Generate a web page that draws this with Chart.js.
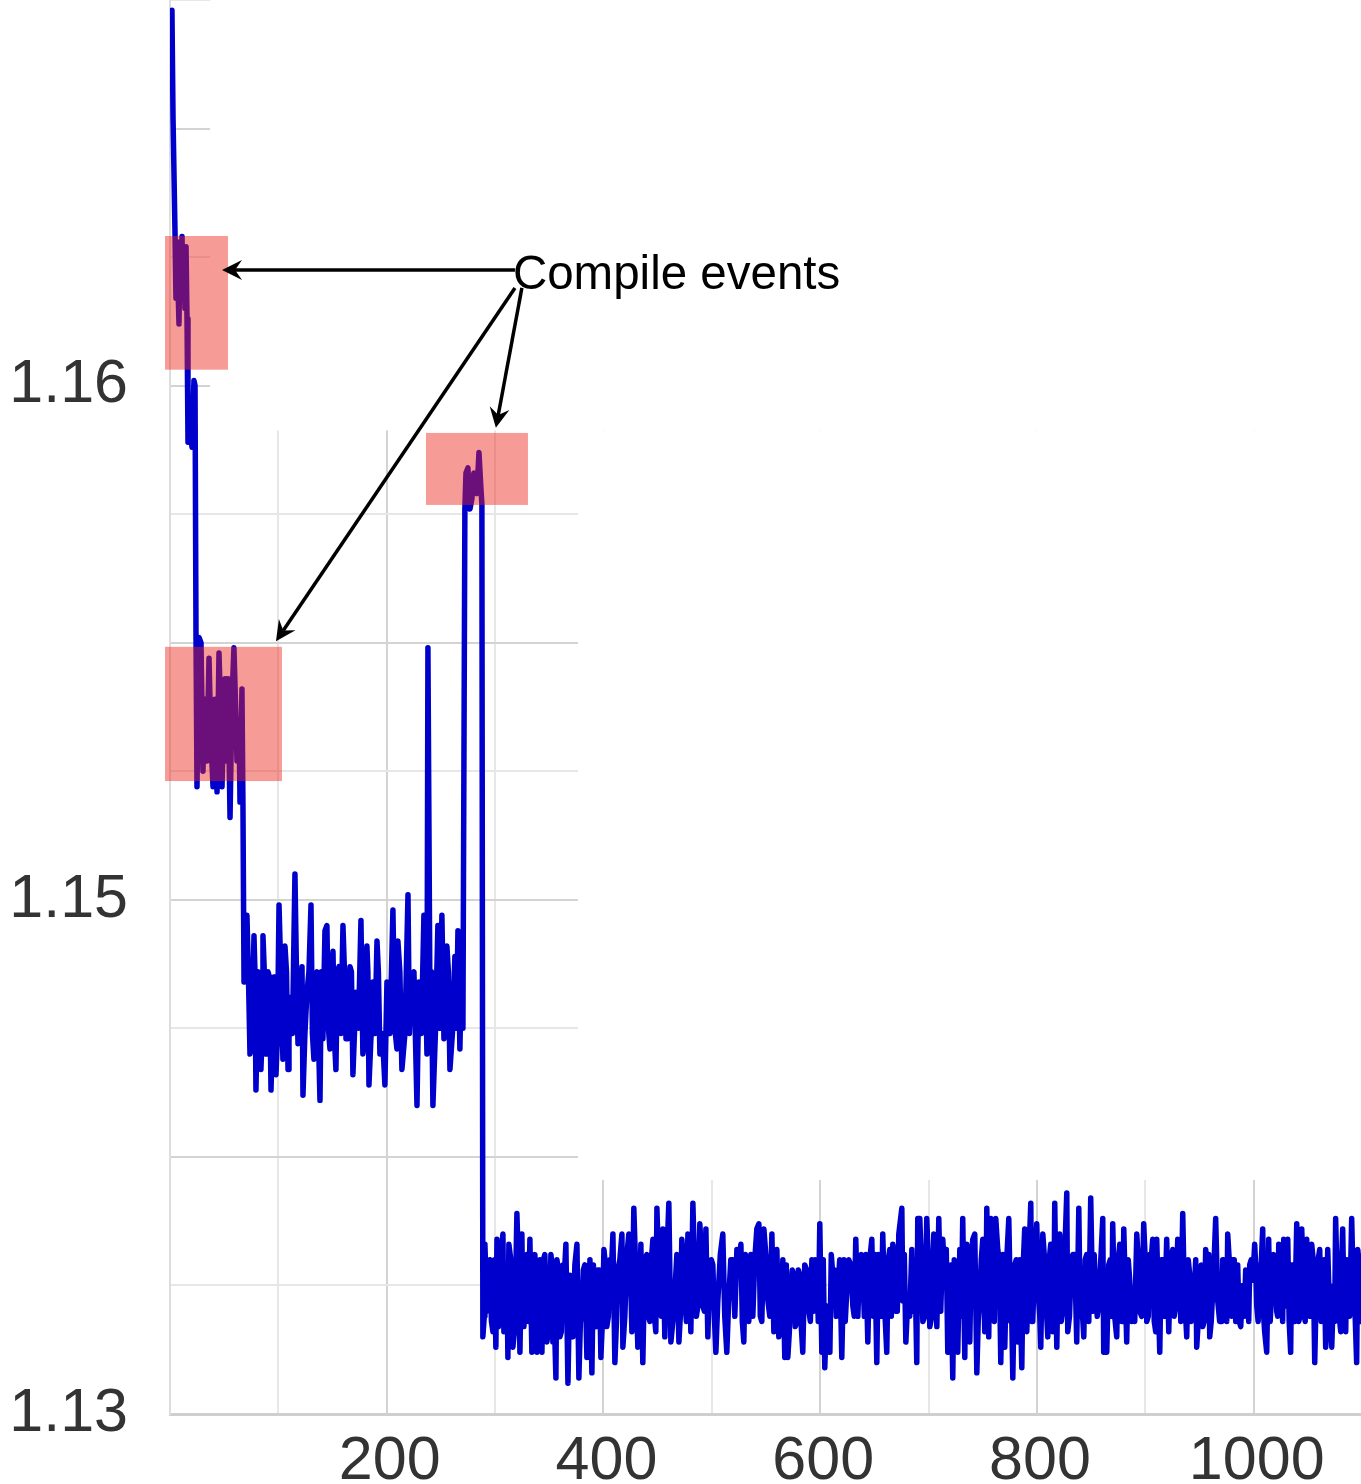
<!DOCTYPE html>
<html>
<head>
<meta charset="utf-8">
<script src="https://cdn.jsdelivr.net/npm/chart.js@4.4.1/dist/chart.umd.min.js"></script>
<style>
  html, body { margin: 0; padding: 0; background: #ffffff; }
  #wrap { width: 1361px; height: 1484px; position: relative; }
</style>
</head>
<body>
<div id="wrap"><canvas id="c"></canvas></div>
<script>
// ---------------- data (iteration, value) ----------------
const startPts = [
  [1.8,1.1673],[2.8,1.1652],[4.6,1.1630],[5.5,1.1617],[6.5,1.1628],[7.4,1.1619],[8.3,1.1612],
  [9.2,1.1627],[10.1,1.1618],[11.1,1.1629],[12.0,1.1617],[12.9,1.1626],[13.8,1.1615],[14.8,1.1627],
  [15.7,1.1613],[16.6,1.1589],[18.5,1.1592],[20.3,1.1588],[22.1,1.1601],[23.1,1.1600]
];
const secondPhasePts = [
  [24.0,1.1551],[24.9,1.1522],[26.8,1.1551],[28.6,1.1550],[30.4,1.1525],[32.3,1.1539],[34.1,1.1527],
  [36.0,1.1547],[37.8,1.1531],[39.7,1.1522],[41.5,1.1539],[43.4,1.1521],[45.2,1.1548],[47.0,1.1535],
  [48.0,1.1522],[49.8,1.1539],[50.7,1.1543],[51.7,1.1527],[53.5,1.1543],[55.4,1.1516],[57.2,1.1539],
  [59.0,1.1549],[60.9,1.1535],[61.8,1.1527],[63.7,1.1535],[64.6,1.1519],[66.4,1.1541],[67.3,1.1519],
  [68.3,1.1484]
];
const plateauPts = [
  [71.0,1.1497],[73.8,1.1470],[77.5,1.1493],[79.3,1.1463],[81.2,1.1486],[83.9,1.1467],[85.8,1.1493],
  [88.6,1.1470],[90.4,1.1486],[93.2,1.1463],[95.9,1.1485],[97.8,1.1466],[100.6,1.1499],[104.2,1.1469],
  [106.1,1.1491],[108.9,1.1467],[110.7,1.1481],[115.3,1.1505],[118.1,1.1472],[121.8,1.1487],[122.7,1.1462],
  [126.4,1.1482],[130.1,1.1499],[132.8,1.1469],[135.6,1.1486],[138.4,1.1461],[141.1,1.1473],[143.0,1.1494],
  [144.8,1.1495],[147.6,1.1471],[150.4,1.1490],[153.1,1.1467],[155.9,1.1487],[159.6,1.1495],[162.4,1.1473],
  [166.1,1.1487],[168.8,1.1466],[171.6,1.1482],[176.2,1.1496],[178.0,1.1470],[181.7,1.1491],[183.6,1.1464],
  [187.3,1.1484],[191.0,1.1492],[193.7,1.1470],[198.3,1.1464],[200.2,1.1484],[205.7,1.1498],[209.4,1.1471],
  [210.3,1.1492],[214.0,1.1467],[219.6,1.1501],[222.3,1.1484],[227.9,1.1460],[229.7,1.1484],[234.3,1.1497],
  [237.1,1.1470],[238.0,1.1549],[239.9,1.1479],[242.6,1.1460],[247.2,1.1495],[250.9,1.1497],[252.8,1.1473],
  [255.5,1.1491],[258.3,1.1467],[262.9,1.1489],[265.7,1.1494],[267.5,1.1471],[270.3,1.1475]
];
const plateauCorePts = [
  [72.4,1.1485],[75.6,1.1474],[78.4,1.1486],[80.2,1.1472],[82.5,1.1485],[84.9,1.1473],[87.2,1.1485],
  [89.5,1.1474],[91.8,1.1485],[94.5,1.1473],[96.8,1.1485],[99.2,1.1474],[102.4,1.1485],[105.1,1.1474],
  [107.5,1.1486],[109.8,1.1473],[113.0,1.1474],[116.7,1.1486],[119.9,1.1473],[124.5,1.1474],[128.2,1.1486],
  [131.4,1.1474],[134.2,1.1485],[137.0,1.1473],[139.7,1.1486],[146.2,1.1475],[149.0,1.1485],[151.7,1.1473],
  [154.5,1.1486],[157.7,1.1474],[161.0,1.1486],[164.2,1.1473],[167.4,1.1486],[170.2,1.1474],[173.9,1.1475],
  [179.8,1.1474],[182.6,1.1486],[185.4,1.1473],[189.1,1.1474],[192.3,1.1486],[196.0,1.1474],[203.0,1.1474],
  [207.5,1.1475],[212.1,1.1486],[216.8,1.1474],[220.9,1.1474],[225.1,1.1486],[232.0,1.1474],[235.7,1.1486],
  [241.2,1.1486],[244.9,1.1474],[249.0,1.1475],[254.1,1.1484],[256.9,1.1486],[260.6,1.1474],[264.3,1.1475],
  [268.9,1.1486]
];
const recompilePts = [
  [272.1,1.1576],[273.1,1.1583],[274.9,1.1584],[276.8,1.1576],[278.6,1.1578],[280.4,1.1583],
  [283.2,1.1579],[285.1,1.1587],[286.9,1.1580],[287.8,1.1577]
];
const steadyPtsA = [
  [288.7,1.1415],[290.6,1.1433],[292.4,1.1420],[295.2,1.1430],[298.0,1.1416],[300.7,1.1413],[301.7,1.1434],
  [304.4,1.1425],[307.2,1.1435],[308.1,1.1416],[310.9,1.1427],[311.8,1.1411],[312.7,1.1433],[316.4,1.1413],
  [320.1,1.1439],[322.9,1.1412],[324.7,1.1435],[326.6,1.1417],[329.3,1.1431],[332.1,1.1434],[333.9,1.1412],
  [336.7,1.1431],[338.6,1.1412],[341.3,1.1430],[343.2,1.1412],[345.9,1.1431],[347.8,1.1414],[351.5,1.1431],
  [353.3,1.1414],[356.1,1.1407],[357.0,1.1430],[359.8,1.1415],[362.5,1.1429],[365.3,1.1433],[367.2,1.1406],
  [369.0,1.1427],[371.8,1.1415],[375.5,1.1433],[377.3,1.1407],[380.1,1.1419],[382.8,1.1429],[384.7,1.1411],
  [387.5,1.1430],[389.3,1.1408],[392.1,1.1418],[394.8,1.1428],[397.6,1.1411],[400.4,1.1432],[403.1,1.1417],
  [405.9,1.1430],[408.7,1.1435],[410.5,1.1410],[413.3,1.1428],[417.0,1.1435],[417.9,1.1413],[421.6,1.1431],
  [423.4,1.1435],[426.2,1.1416],[428.0,1.1440],[429.9,1.1427],[431.7,1.1413],[434.5,1.1433],[436.3,1.1410],
  [440.0,1.1431],[442.8,1.1418],[445.6,1.1434],[448.3,1.1416],[449.3,1.1440],[452.0,1.1423],[454.8,1.1436],
  [456.6,1.1415],[460.3,1.1441],[462.2,1.1414],[465.9,1.1424],[469.6,1.1414],[472.3,1.1434],[475.1,1.1422],
  [477.9,1.1435],[480.6,1.1416],[482.5,1.1441],[484.3,1.1426],[487.1,1.1421],[488.9,1.1437],[491.7,1.1421],
  [494.5,1.1436],[496.3,1.1415],[498.2,1.1429],[500.9,1.1429],[503.7,1.1412],[505.5,1.1422],[510.1,1.1435],
  [513.8,1.1412],[515.7,1.1423],[519.4,1.1430],[523.1,1.1432],[526.8,1.1433],[529.5,1.1414],[532.3,1.1425],
  [536.0,1.1431],[537.8,1.1419],[541.5,1.1436],[543.4,1.1437],[546.1,1.1418],[548.0,1.1436],[551.7,1.1422],
  [555.4,1.1435],[557.2,1.1416],[560.0,1.1432],[561.8,1.1415],[565.5,1.1430],[567.3,1.1411],[570.1,1.1411],
  [572.9,1.1424],[575.6,1.1427],[578.4,1.1418],[581.2,1.1427],[583.9,1.1412],[587.6,1.1428],[589.5,1.1420],
  [592.3,1.1430],[594.1,1.1420],[596.9,1.1427],[599.6,1.1437],[601.5,1.1412],[604.2,1.1409],[606.1,1.1421],
  [608.9,1.1412],[611.6,1.1427],[613.5,1.1428],[616.2,1.1424],[619.9,1.1411],[621.8,1.1430],[624.5,1.1424],
  [628.2,1.1429],[630.1,1.1421],[632.8,1.1434],[634.7,1.1419],[636.5,1.1430],[639.3,1.1428],[642.1,1.1431],
  [643.9,1.1414],[647.6,1.1434],[650.4,1.1431],[652.2,1.1410],[655.0,1.1426],[657.7,1.1435],[659.6,1.1420],
  [661.4,1.1412],[664.2,1.1432],[667.0,1.1433],[669.7,1.1420],[672.5,1.1435],[675.3,1.1440],[676.2,1.1422],
  [679.0,1.1414],[680.8,1.1422],[684.5,1.1432],[685.4,1.1420],[689.1,1.1410],[690.0,1.1438]
];
const steadyCorePtsA = [
  [290.0,1.1419],[293.8,1.1429],[296.6,1.1418],[299.4,1.1430],[303.0,1.1417],[305.8,1.1431],[309.5,1.1418],
  [314.5,1.1430],[318.2,1.1417],[321.5,1.1429],[325.6,1.1419],[328.0,1.1430],[330.7,1.1418],[335.3,1.1429],
  [340.0,1.1416],[344.5,1.1430],[349.6,1.1417],[352.4,1.1429],[354.7,1.1418],[358.4,1.1428],[361.1,1.1416],
  [363.9,1.1427],[370.4,1.1417],[373.6,1.1429],[378.7,1.1418],[381.4,1.1428],[386.1,1.1416],[390.7,1.1429],
  [393.4,1.1417],[396.2,1.1428],[399.0,1.1418],[401.8,1.1429],[404.5,1.1419],[407.3,1.1428],[412.0,1.1418],
  [415.1,1.1430],[419.7,1.1419],[424.8,1.1429],[433.1,1.1418],[438.1,1.1430],[441.4,1.1419],[444.2,1.1430],
  [447.0,1.1419],[450.6,1.1431],[453.4,1.1419],[458.4,1.1430],[464.0,1.1418],[467.7,1.1431],[470.9,1.1419],
  [473.7,1.1430],[476.5,1.1418],[479.2,1.1431],[485.7,1.1419],[490.3,1.1431],[493.1,1.1420],[499.5,1.1430],
  [502.3,1.1419],[507.8,1.1431],[511.9,1.1419],[517.5,1.1430],[521.2,1.1419],[525.0,1.1430],[528.1,1.1418],
  [530.9,1.1431],[534.1,1.1418],[539.6,1.1430],[544.7,1.1419],[549.8,1.1431],[553.5,1.1419],[558.6,1.1430],
  [563.6,1.1418],[568.7,1.1429],[571.5,1.1416],[574.2,1.1428],[577.0,1.1417],[579.8,1.1428],[582.5,1.1417],
  [585.7,1.1429],[590.9,1.1418],[595.5,1.1430],[598.2,1.1418],[602.8,1.1430],[607.5,1.1418],[610.2,1.1431],
  [614.8,1.1419],[618.0,1.1430],[623.1,1.1418],[626.3,1.1430],[631.4,1.1419],[637.9,1.1431],[640.7,1.1419],
  [645.7,1.1430],[649.0,1.1419],[653.6,1.1431],[656.3,1.1419],[662.8,1.1430],[665.6,1.1419],[668.3,1.1431],
  [671.1,1.1420],[677.6,1.1431],[682.6,1.1419],[687.3,1.1430]
];
const steadyPtsB = [
  [691.9,1.1438],[694.7,1.1418],[698.3,1.1438],[701.1,1.1417],[704.8,1.1435],[707.6,1.1417],[709.4,1.1438],
  [713.1,1.1434],[714.9,1.1426],[717.7,1.1412],[720.5,1.1429],[722.3,1.1407],[725.1,1.1427],[726.9,1.1412],
  [728.8,1.1432],[731.5,1.1438],[733.4,1.1411],[735.2,1.1433],[738.0,1.1414],[740.8,1.1434],[742.6,1.1435],
  [744.5,1.1408],[747.2,1.1423],[750.0,1.1434],[751.8,1.1416],[753.7,1.1440],[755.5,1.1415],[757.4,1.1438],
  [759.2,1.1424],[762.0,1.1438],[763.8,1.1432],[766.6,1.1410],[768.5,1.1431],[770.3,1.1413],[774.0,1.1438],
  [775.8,1.1418],[777.7,1.1407],[779.5,1.1429],[782.3,1.1414],[784.1,1.1430],[786.0,1.1409],[788.7,1.1436],
  [790.6,1.1416],[794.3,1.1441],[796.1,1.1418],[799.8,1.1437],[801.7,1.1422],[803.5,1.1413],[805.4,1.1435],
  [808.1,1.1428],[810.0,1.1415],[812.7,1.1433],[814.6,1.1416],[816.4,1.1441],[818.3,1.1413],[821.0,1.1435],
  [823.8,1.1420],[827.5,1.1443],[828.4,1.1416],[831.2,1.1426],[833.0,1.1431],[836.7,1.1414],[838.6,1.1440],
  [841.3,1.1422],[843.2,1.1415],[845.9,1.1431],[849.6,1.1442],[851.5,1.1420],[854.2,1.1424],[857.0,1.1421],
  [860.7,1.1438],[861.6,1.1412],[864.4,1.1412],[866.2,1.1429],[869.0,1.1419],[869.9,1.1437],[873.6,1.1415],
  [876.4,1.1433],[878.2,1.1418],[880.1,1.1436],[882.8,1.1414],[885.6,1.1426],[887.5,1.1418],[890.2,1.1418],
  [892.1,1.1435],[894.8,1.1420],[898.5,1.1437],[901.3,1.1418],[904.1,1.1431],[906.8,1.1434],[909.6,1.1416],
  [910.5,1.1434],[913.3,1.1412],[916.1,1.1430],[919.7,1.1434],[921.6,1.1416],[925.3,1.1432],[928.0,1.1421],
  [929.9,1.1434],[932.7,1.1418],[934.5,1.1439],[936.3,1.1420],[938.2,1.1415],[941.0,1.1427],[943.7,1.1422],
  [945.6,1.1426],[947.4,1.1413],[950.2,1.1425],[953.0,1.1417],[955.7,1.1432],[957.6,1.1424],[959.4,1.1415],
  [962.2,1.1424],[964.9,1.1438],[966.8,1.1422],[970.5,1.1418],[972.3,1.1430],[974.2,1.1424],[976.0,1.1435],
  [978.8,1.1421],[980.6,1.1430],[983.4,1.1418],[985.2,1.1429],[988.0,1.1417],[989.9,1.1425],[992.6,1.1428],
  [994.5,1.1424],[996.3,1.1429],[999.1,1.1426],[1000.9,1.1433],[1002.8,1.1421],[1005.5,1.1429],[1008.3,1.1436],
  [1010.1,1.1416],[1012.0,1.1412],[1013.8,1.1434],[1016.6,1.1424],[1018.4,1.1431],[1021.2,1.1420],[1023.1,1.1433],
  [1025.8,1.1423],[1027.7,1.1434],[1030.4,1.1421],[1031.4,1.1434],[1034.1,1.1412],[1036.0,1.1429],[1039.7,1.1437],
  [1041.5,1.1418],[1044.3,1.1436],[1046.1,1.1421],[1048.9,1.1434],[1050.7,1.1428],[1053.5,1.1433],[1056.3,1.1410],
  [1058.1,1.1430],[1060.9,1.1432],[1063.7,1.1424],[1066.4,1.1413],[1068.3,1.1432],[1072.0,1.1413],[1073.8,1.1425],
  [1075.6,1.1438],[1077.5,1.1425],[1080.3,1.1416],[1082.1,1.1436],[1084.9,1.1416],[1086.7,1.1425],[1090.4,1.1438],
  [1092.2,1.1420],[1095.0,1.1410],[1096.0,1.1432],[1098.7,1.1418],[1101.0,1.1430]
];
const steadyCorePtsB = [
  [693.3,1.1429],[696.5,1.1419],[699.7,1.1430],[703.0,1.1419],[706.2,1.1431],[711.2,1.1420],[716.3,1.1432],
  [719.1,1.1419],[723.7,1.1430],[730.1,1.1419],[734.3,1.1430],[736.6,1.1418],[739.4,1.1431],[745.8,1.1418],
  [748.6,1.1430],[752.8,1.1419],[756.5,1.1431],[760.6,1.1418],[765.2,1.1430],[769.4,1.1418],[772.1,1.1430],
  [776.7,1.1419],[780.9,1.1430],[785.0,1.1418],[787.3,1.1429],[789.6,1.1418],[792.4,1.1430],[795.2,1.1418],
  [798.0,1.1430],[802.6,1.1419],[806.7,1.1431],[809.0,1.1419],[811.3,1.1430],[815.5,1.1419],[819.6,1.1430],
  [822.4,1.1418],[825.6,1.1431],[830.0,1.1419],[834.8,1.1431],[839.9,1.1419],[844.5,1.1430],[847.8,1.1418],
  [852.8,1.1431],[855.6,1.1419],[858.9,1.1430],[863.0,1.1419],[867.6,1.1430],[871.7,1.1419],[875.0,1.1430],
  [879.1,1.1418],[884.2,1.1430],[888.8,1.1419],[893.4,1.1430],[896.6,1.1419],[899.9,1.1430],[902.7,1.1419],
  [905.4,1.1430],[908.2,1.1418],[914.7,1.1430],[917.9,1.1419],[923.4,1.1430],[926.6,1.1419],[931.3,1.1430],
  [937.2,1.1419],[939.6,1.1430],[942.3,1.1418],[946.5,1.1430],[948.8,1.1418],[951.6,1.1429],[954.3,1.1418],
  [958.5,1.1431],[960.8,1.1418],[963.5,1.1430],[968.6,1.1418],[971.4,1.1430],[975.1,1.1418],[977.4,1.1430],
  [979.7,1.1419],[982.0,1.1430],[986.6,1.1418],[991.2,1.1419],[995.4,1.1418],[997.7,1.1430],[1001.8,1.1429],
  [1004.1,1.1418],[1006.9,1.1429],[1009.2,1.1419],[1015.2,1.1418],[1017.5,1.1430],[1019.8,1.1429],[1022.1,1.1419],
  [1024.4,1.1431],[1026.7,1.1418],[1029.0,1.1430],[1032.7,1.1418],[1035.0,1.1429],[1037.8,1.1418],[1040.6,1.1430],
  [1042.9,1.1419],[1045.2,1.1430],[1047.5,1.1418],[1049.8,1.1429],[1052.1,1.1419],[1054.9,1.1430],[1057.2,1.1419],
  [1059.5,1.1430],[1062.3,1.1418],[1065.0,1.1430],[1070.1,1.1419],[1074.7,1.1418],[1076.5,1.1430],[1078.9,1.1419],
  [1081.2,1.1430],[1083.5,1.1419],[1085.8,1.1430],[1088.5,1.1419],[1091.3,1.1430],[1093.6,1.1419],[1097.3,1.1429]
];

// axis ticks
const xRange = [0, 1099];
const yRange = [1.14, 1.1675];
const xGridTicks = [0, 100, 200, 300, 400, 500, 600, 700, 800, 900, 1000];
const xLabelledTicks = [200, 400, 600, 800, 1000];
const yTickValues = [1.16, 1.15, 1.14];
const yTickTexts = ['1.16', '1.15', '1.13'];

// annotations (data coordinates)
const calloutText = 'Compile events';
const calloutAnchor = [316.4, 1.16213];
const compileBoxes = [
  [-4.6, 53.5, 1.16031, 1.16291],
  [-4.6, 103.3, 1.15231, 1.15492],
  [236.2, 330.3, 1.15768, 1.15908]
];
const calloutArrows = [
  [[318.3, 1.16225], [48.0, 1.16225]],
  [[318.3, 1.16190], [97.8, 1.15503]],
  [[324.7, 1.16190], [300.7, 1.15918]]
];
// regions of the plot where the original picture shows no grid
const gridGaps = [
  [37, 1099, 1.15913, 1.1675],
  [376.4, 1099, 1.14455, 1.15913]
];

// ---------------- chart ----------------
const allPts = [].concat(startPts, secondPhasePts, plateauPts, plateauCorePts, recompilePts,
                         steadyPtsA, steadyCorePtsA, steadyPtsB, steadyCorePtsB)
  .map(p => ({ x: p[0], y: p[1] }))
  .sort((a, b) => a.x - b.x);

const GRID_DARK = '#d3d3d3';
const GRID_LIGHT = '#e7e7e7';
const FONT = '"Liberation Sans", Arial, sans-serif';

const overlay = {
  id: 'overlay',
  beforeDatasetsDraw(chart) {
    const { ctx, scales: { x, y }, chartArea } = chart;
    ctx.save();
    ctx.fillStyle = '#ffffff';
    gridGaps.forEach(g => {
      const x0 = x.getPixelForValue(g[0]);
      const x1 = Math.max(x.getPixelForValue(g[1]), chartArea.right + 2);
      let y0 = y.getPixelForValue(g[3]);
      const y1 = y.getPixelForValue(g[2]);
      if (g[3] >= yRange[1]) y0 = chartArea.top - 3;
      ctx.fillRect(x0, y0, x1 - x0, y1 - y0);
    });
    ctx.restore();
  },
  afterDatasetsDraw(chart) {
    const { ctx, scales: { x, y } } = chart;
    ctx.save();
    ctx.fillStyle = 'rgba(237, 33, 22, 0.45)';
    compileBoxes.forEach(b => {
      const x0 = x.getPixelForValue(b[0]), x1 = x.getPixelForValue(b[1]);
      const y0 = y.getPixelForValue(b[3]), y1 = y.getPixelForValue(b[2]);
      ctx.fillRect(x0, y0, x1 - x0, y1 - y0);
    });
    ctx.strokeStyle = '#000000';
    ctx.fillStyle = '#000000';
    ctx.lineWidth = 3.5;
    calloutArrows.forEach(a => {
      const sx = x.getPixelForValue(a[0][0]), sy = y.getPixelForValue(a[0][1]);
      const ex = x.getPixelForValue(a[1][0]), ey = y.getPixelForValue(a[1][1]);
      const ang = Math.atan2(ey - sy, ex - sx);
      const L = 20, W = 10, N = 13;
      ctx.beginPath();
      ctx.moveTo(sx, sy);
      ctx.lineTo(ex - Math.cos(ang) * N, ey - Math.sin(ang) * N);
      ctx.stroke();
      ctx.save();
      ctx.translate(ex, ey);
      ctx.rotate(ang);
      ctx.beginPath();
      ctx.moveTo(0, 0);
      ctx.lineTo(-L, W);
      ctx.lineTo(-N, 0);
      ctx.lineTo(-L, -W);
      ctx.closePath();
      ctx.fill();
      ctx.restore();
    });
    ctx.font = '47.5px ' + FONT;
    ctx.textAlign = 'left';
    ctx.textBaseline = 'middle';
    ctx.fillStyle = '#000000';
    ctx.fillText(calloutText, x.getPixelForValue(calloutAnchor[0]), y.getPixelForValue(calloutAnchor[1]));
    ctx.restore();
  }
};

new Chart(document.getElementById('c'), {
  type: 'line',
  data: {
    datasets: [{
      data: allPts,
      borderColor: '#0000CC',
      borderWidth: 5.5,
      pointRadius: 0,
      tension: 0,
      borderJoinStyle: 'round',
      borderCapStyle: 'round',
      fill: false
    }]
  },
  plugins: [overlay],
  options: {
    responsive: true,
    maintainAspectRatio: false,
    animation: false,
    devicePixelRatio: 1,
    layout: { padding: 0 },
    plugins: { legend: { display: false }, tooltip: { enabled: false } },
    scales: {
      x: {
        type: 'linear',
        min: xRange[0],
        max: xRange[1],
        border: { display: true, color: '#cfcfcf', width: 3 },
        grid: {
          drawTicks: false,
          lineWidth: 2,
          color: c => (c.tick && Math.round(c.tick.value) % 200 === 0) ? GRID_DARK : GRID_LIGHT
        },
        ticks: {
          autoSkip: false,
          maxRotation: 0,
          padding: 12,
          labelOffset: 3,
          color: '#333333',
          font: { family: FONT, size: 61 },
          callback: v => xLabelledTicks.includes(Math.round(v)) ? String(Math.round(v)) : ''
        },
        afterBuildTicks(s) { s.ticks = xGridTicks.map(v => ({ value: v })); },
        afterFit(s) { s.height = 70; s.paddingLeft = 0; s.paddingRight = 0; }
      },
      y: {
        type: 'linear',
        min: yRange[0],
        max: yRange[1],
        border: { display: true, color: '#dddddd', width: 2 },
        grid: {
          drawTicks: false,
          lineWidth: 2,
          color: c => (c.tick && Math.round(c.tick.value * 10000) % 50 === 0) ? GRID_DARK : GRID_LIGHT
        },
        ticks: {
          stepSize: 0.0025,
          includeBounds: false,
          autoSkip: false,
          padding: 42,
          color: '#333333',
          font: { family: FONT, size: 61 },
          callback: v => {
            const i = yTickValues.findIndex(t => Math.abs(t - v) < 1e-7);
            return i >= 0 ? yTickTexts[i] : '';
          }
        },
        afterFit(s) { s.width = 170; s.paddingTop = 0; s.paddingBottom = 0; }
      }
    }
  }
});
</script>
</body>
</html>
